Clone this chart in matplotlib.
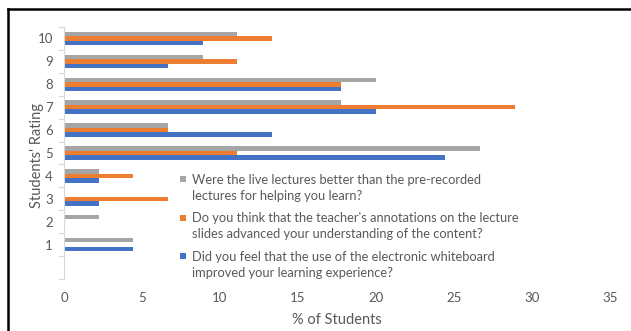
import matplotlib
matplotlib.use("Agg")
import matplotlib.pyplot as plt
from matplotlib.patches import Rectangle
from matplotlib.lines import Line2D
import numpy as np

plt.rcParams['font.family'] = ['Lato', 'DejaVu Sans']

ratings = ['', '1', '2', '3', '4', '5', '6', '7', '8', '9', '10']
whiteboard = [0, 4.44, 0, 2.22, 2.22, 24.44, 13.33, 20.0, 17.78, 6.67, 8.89]
annotations = [0, 0, 0, 6.67, 4.44, 11.11, 6.67, 28.89, 17.78, 11.11, 13.33]
live = [0, 4.44, 2.22, 0, 2.22, 26.67, 6.67, 17.78, 20.0, 8.89, 11.11]

labels = [
    "Were the live lectures better than the pre-recorded\nlectures for helping you learn?",
    "Do you think that the teacher's annotations on the lecture\nslides advanced your understanding of the content?",
    "Did you feel that the use of the electronic whiteboard\nimproved your learning experience?",
]
colors = {'blue': '#4472C4', 'orange': '#ED7D31', 'gray': '#A5A5A5'}
txt = '#595959'

W, H = 631, 331
fig = plt.figure(figsize=(W/100, H/100), dpi=100)
ax = fig.add_axes([64/W, 1-279/H, (610-64)/W, (279-27)/H])

y = np.arange(len(ratings))
h = 0.195
ax.barh(y - h, whiteboard, height=h, color=colors['blue'])
ax.barh(y, annotations, height=h, color=colors['orange'])
ax.barh(y + h, live, height=h, color=colors['gray'])

ax.set_xlim(0, 35)
ax.set_ylim(-0.5, 10.5)
ax.set_xticks(np.arange(0, 36, 5))
ax.set_yticks(y)
ax.set_yticklabels(ratings)
ax.set_yticks(np.arange(-0.5, 11, 1), minor=True)
ax.tick_params(axis='y', which='major', length=0, labelsize=9.5, labelcolor=txt, pad=8)
ax.tick_params(axis='y', which='minor', length=4, color='#D9D9D9', width=0.8)
ax.tick_params(axis='x', length=0, labelsize=9.5, labelcolor=txt, pad=9)
for s in ['top', 'right', 'bottom']:
    ax.spines[s].set_visible(False)
ax.spines['left'].set_color('#D9D9D9')
ax.spines['left'].set_linewidth(0.8)

ax.set_xlabel('% of Students', fontsize=10.5, color=txt, labelpad=7)
fig.text(37/W, 1-155/H, "Students' Rating", rotation=90, fontsize=10.5,
         color=txt, ha='center', va='center')

# legend (manual, swatch aligned with first text line)
leg_colors = [colors['gray'], colors['orange'], colors['blue']]
entry_y = [179, 217.5, 256]
for lab, c, ey in zip(labels, leg_colors, entry_y):
    fig.add_artist(Rectangle((180.5/W, 1-(ey+3)/H), 6/W, 6/H, transform=fig.transFigure,
                             color=c, lw=0))
    for k, line in enumerate(lab.split('\n')):
        fig.text(192/W, 1-(ey+16*k)/H, line, fontsize=9.3, color=txt,
                 ha='left', va='center_baseline')

# outer border (top and left)
fig.add_artist(Line2D([8/W, 1], [1-9/H, 1-9/H], transform=fig.transFigure, color='black', lw=1.8))
fig.add_artist(Line2D([8/W, 8/W], [0, 1-9/H], transform=fig.transFigure, color='black', lw=1.8))

fig.savefig('out.png', dpi=100)
